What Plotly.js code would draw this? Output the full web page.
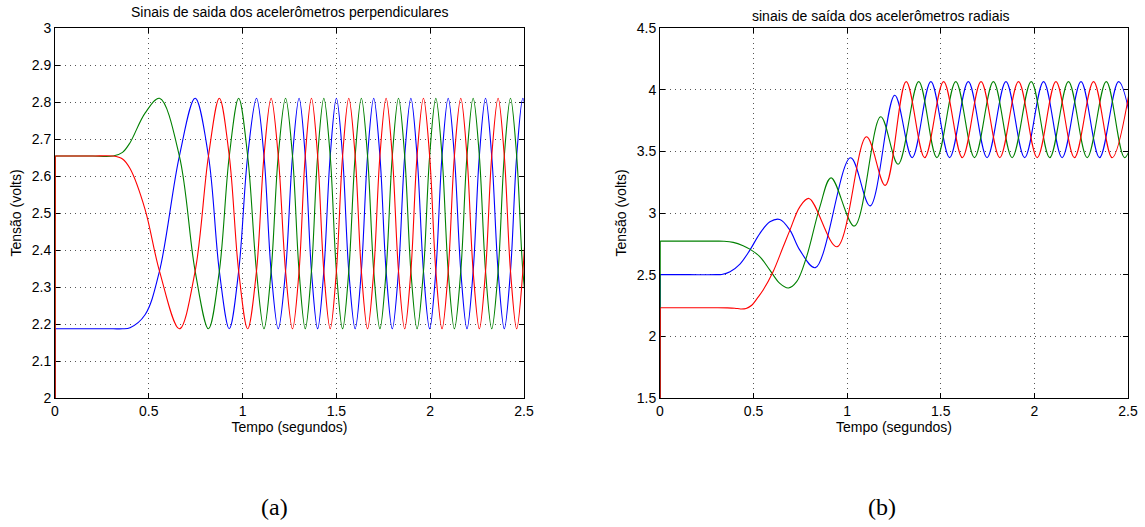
<!DOCTYPE html>
<html><head><meta charset="utf-8">
<script src="https://cdn.plot.ly/plotly-3.0.1.min.js"></script>
<style>html,body{margin:0;padding:0;background:#fff;} #chart{width:1145px;height:527px;}</style>
</head><body><div id="chart"></div>
<script>
// ---------- (a) perpendicular accelerometers ----------
const perpT = [0, 0.001, 0.1, 0.2, 0.31, 0.36, 0.40, 0.48,
  0.557, 0.663, 0.747, 0.818, 0.876, 0.929,
  0.979, 1.027, 1.074, 1.114, 1.152, 1.190,
  1.229, 1.266, 1.301, 1.334, 1.367, 1.400,
  1.433, 1.467, 1.500, 1.533, 1.566, 1.600,
  1.633, 1.666, 1.699, 1.732, 1.765, 1.798,
  1.831, 1.864, 1.897, 1.930, 1.964, 1.997,
  2.030, 2.063, 2.096, 2.129, 2.163, 2.196,
  2.229, 2.262, 2.295, 2.328, 2.362, 2.395,
  2.428, 2.461, 2.494, 2.527];
const perpGreen = [0, 2.654, 2.654, 2.654, 2.654, 2.664, 2.69, 2.77,
  2.81, 2.654, 2.343, 2.187, 2.343, 2.654,
  2.81, 2.654, 2.343, 2.187, 2.343, 2.654,
  2.81, 2.654, 2.343, 2.187, 2.343, 2.654,
  2.81, 2.654, 2.343, 2.187, 2.343, 2.654,
  2.81, 2.654, 2.343, 2.187, 2.343, 2.654,
  2.81, 2.654, 2.343, 2.187, 2.343, 2.654,
  2.81, 2.654, 2.343, 2.187, 2.343, 2.654,
  2.81, 2.654, 2.343, 2.187, 2.343, 2.654,
  2.81, 2.654, 2.343, 2.187];
const perpRed = [0, 2.654, 2.654, 2.654, 2.654, 2.646, 2.62, 2.51,
  2.343, 2.187, 2.343, 2.654, 2.81, 2.654,
  2.343, 2.187, 2.343, 2.654, 2.81, 2.654,
  2.343, 2.187, 2.343, 2.654, 2.81, 2.654,
  2.343, 2.187, 2.343, 2.654, 2.81, 2.654,
  2.343, 2.187, 2.343, 2.654, 2.81, 2.654,
  2.343, 2.187, 2.343, 2.654, 2.81, 2.654,
  2.343, 2.187, 2.343, 2.654, 2.81, 2.654,
  2.343, 2.187, 2.343, 2.654, 2.81, 2.654,
  2.343, 2.187, 2.343, 2.654];
const perpBlue = [0, 2.187, 2.187, 2.187, 2.187, 2.187, 2.19, 2.225,
  2.343, 2.654, 2.81, 2.654, 2.343, 2.187,
  2.343, 2.654, 2.81, 2.654, 2.343, 2.187,
  2.343, 2.654, 2.81, 2.654, 2.343, 2.187,
  2.343, 2.654, 2.81, 2.654, 2.343, 2.187,
  2.343, 2.654, 2.81, 2.654, 2.343, 2.187,
  2.343, 2.654, 2.81, 2.654, 2.343, 2.187,
  2.343, 2.654, 2.81, 2.654, 2.343, 2.187,
  2.343, 2.654, 2.81, 2.654, 2.343, 2.187,
  2.343, 2.654, 2.81, 2.654];

// ---------- (b) radial accelerometers ----------
const radBlueT = [0, 0.001, 0.15, 0.30, 0.33, 0.374, 0.427, 0.480, 0.534, 0.587,
  0.640, 0.694, 0.747, 0.830, 1.018, 1.122, 1.254, 1.347, 1.447, 1.547,
  1.647, 1.747, 1.848, 1.948, 2.049, 2.148, 2.249, 2.348, 2.450, 2.550];
const radBlueV = [0, 2.5, 2.5, 2.5, 2.502, 2.524, 2.586, 2.699, 2.835, 2.929,
  2.948, 2.861, 2.699, 2.557, 3.448, 3.058, 3.955, 3.449, 4.065, 3.449,
  4.065, 3.449, 4.065, 3.449, 4.065, 3.449, 4.065, 3.449, 4.065, 3.449];
const radGreenT = [0, 0.001, 0.15, 0.30, 0.34, 0.391, 0.444, 0.480, 0.534, 0.587,
  0.640, 0.686, 0.730, 0.783, 0.854, 0.914, 1.038, 1.179, 1.272, 1.382,
  1.479, 1.580, 1.680, 1.781, 1.881, 1.983, 2.082, 2.182, 2.282, 2.384,
  2.482, 2.584];
const radGreenV = [0, 2.772, 2.772, 2.772, 2.771, 2.762, 2.735, 2.707, 2.645, 2.537,
  2.429, 2.392, 2.443, 2.645, 3.05, 3.285, 2.894, 3.78, 3.395, 4.065,
  3.449, 4.065, 3.449, 4.065, 3.449, 4.065, 3.449, 4.065, 3.449, 4.065,
  3.449, 4.065];
const radRedT = [0, 0.001, 0.15, 0.30, 0.36, 0.40, 0.43, 0.46, 0.49, 0.52,
  0.551, 0.604, 0.658, 0.694, 0.747, 0.796, 0.945, 1.103, 1.203, 1.315,
  1.414, 1.515, 1.615, 1.715, 1.815, 1.915, 2.015, 2.115, 2.214, 2.316,
  2.415, 2.516];
const radRedV = [0, 2.232, 2.232, 2.232, 2.231, 2.228, 2.222, 2.226, 2.252, 2.31,
  2.375, 2.523, 2.726, 2.861, 3.050, 3.118, 2.726, 3.618, 3.224, 4.065,
  3.449, 4.065, 3.449, 4.065, 3.449, 4.065, 3.449, 4.065, 3.449, 4.065,
  3.449, 4.065];

const xTicks = [0, 0.5, 1, 1.5, 2, 2.5];
const perpYTicks = [2, 2.1, 2.2, 2.3, 2.4, 2.5, 2.6, 2.7, 2.8, 2.9, 3];
const radYTicks = [1.5, 2, 2.5, 3, 3.5, 4, 4.5];

const titleA = 'Sinais de saida dos acelerômetros perpendiculares';
const titleB = 'sinais de saída dos acelerômetros radiais';
const xTitle = 'Tempo (segundos)';
const yTitle = 'Tensão (volts)';

const BLUE = '#0000ff', GREEN = '#008000', RED = '#ff0000';
const LW = 1.1;

function mainTrace(t, v, color, xa, ya) {
  return {x: t.slice(1), y: v.slice(1), xaxis: xa, yaxis: ya, type: 'scatter', mode: 'lines',
    line: {color: color, width: LW, shape: 'spline', smoothing: 1}, hoverinfo: 'skip'};
}
function startTrace(t, v, color, xa, ya) {
  return {x: t.slice(0, 2), y: v.slice(0, 2), xaxis: xa, yaxis: ya, type: 'scatter', mode: 'lines',
    line: {color: color, width: LW}, hoverinfo: 'skip'};
}

const data = [
  mainTrace(perpT, perpBlue, BLUE, 'x', 'y'),
  mainTrace(perpT, perpGreen, GREEN, 'x', 'y'),
  mainTrace(perpT, perpRed, RED, 'x', 'y'),
  startTrace(perpT, perpBlue, BLUE, 'x', 'y'),
  startTrace(perpT, perpGreen, GREEN, 'x', 'y'),
  startTrace(perpT, perpRed, RED, 'x', 'y'),
  mainTrace(radBlueT, radBlueV, BLUE, 'x2', 'y2'),
  mainTrace(radGreenT, radGreenV, GREEN, 'x2', 'y2'),
  mainTrace(radRedT, radRedV, RED, 'x2', 'y2'),
  startTrace(radBlueT, radBlueV, BLUE, 'x2', 'y2'),
  startTrace(radGreenT, radGreenV, GREEN, 'x2', 'y2'),
  startTrace(radRedT, radRedV, RED, 'x2', 'y2')
];

const W = 1145, H = 527;
const axBase = {showline: true, linecolor: '#000', linewidth: 1, mirror: 'allticks',
  ticks: 'inside', ticklen: 5, tickcolor: '#000', tickwidth: 1,
  showgrid: true, gridcolor: '#555', gridwidth: 1, griddash: '1px,4px',
  zeroline: false, layer: 'below traces', tickfont: {size: 14, color: '#000'},
  fixedrange: true, tickmode: 'array'};
const yDom = [(H - 398) / H, (H - 28) / H];

const layout = {
  width: W, height: H, margin: {l: 0, r: 0, t: 0, b: 0},
  paper_bgcolor: '#fff', plot_bgcolor: '#fff', showlegend: false,
  font: {family: 'Liberation Sans, Arial, sans-serif', size: 14, color: '#000'},
  xaxis: Object.assign({}, axBase, {domain: [55 / W, 524 / W], range: [0, 2.5], tickvals: xTicks,
    anchor: 'y', title: {text: xTitle, font: {size: 14}, standoff: 3}}),
  yaxis: Object.assign({}, axBase, {domain: yDom, range: [2, 3], tickvals: perpYTicks,
    anchor: 'x', title: {text: yTitle, font: {size: 14}, standoff: 6}}),
  xaxis2: Object.assign({}, axBase, {domain: [660 / W, 1128 / W], range: [0, 2.5], tickvals: xTicks,
    anchor: 'y2', title: {text: xTitle, font: {size: 14}, standoff: 3}}),
  yaxis2: Object.assign({}, axBase, {domain: yDom, range: [1.5, 4.5], tickvals: radYTicks,
    anchor: 'x2', title: {text: yTitle, font: {size: 14}, standoff: 6}}),
  annotations: [
    {text: titleA, xref: 'paper', yref: 'paper', x: 289.5 / W, y: 1 - 12.5 / H,
     xanchor: 'center', yanchor: 'middle', showarrow: false, font: {size: 14}},
    {text: titleB, xref: 'paper', yref: 'paper', x: 880.5 / W, y: 1 - 15.5 / H,
     xanchor: 'center', yanchor: 'middle', showarrow: false, font: {size: 14}},
    {text: '(a)', xref: 'paper', yref: 'paper', x: 274 / W, y: 1 - 507 / H,
     xanchor: 'center', yanchor: 'middle', showarrow: false,
     font: {family: 'Liberation Serif, Times New Roman, serif', size: 24}},
    {text: '(b)', xref: 'paper', yref: 'paper', x: 882 / W, y: 1 - 507 / H,
     xanchor: 'center', yanchor: 'middle', showarrow: false,
     font: {family: 'Liberation Serif, Times New Roman, serif', size: 24}}
  ]
};

Plotly.newPlot('chart', data, layout, {staticPlot: true, displayModeBar: false});
</script></body></html>
